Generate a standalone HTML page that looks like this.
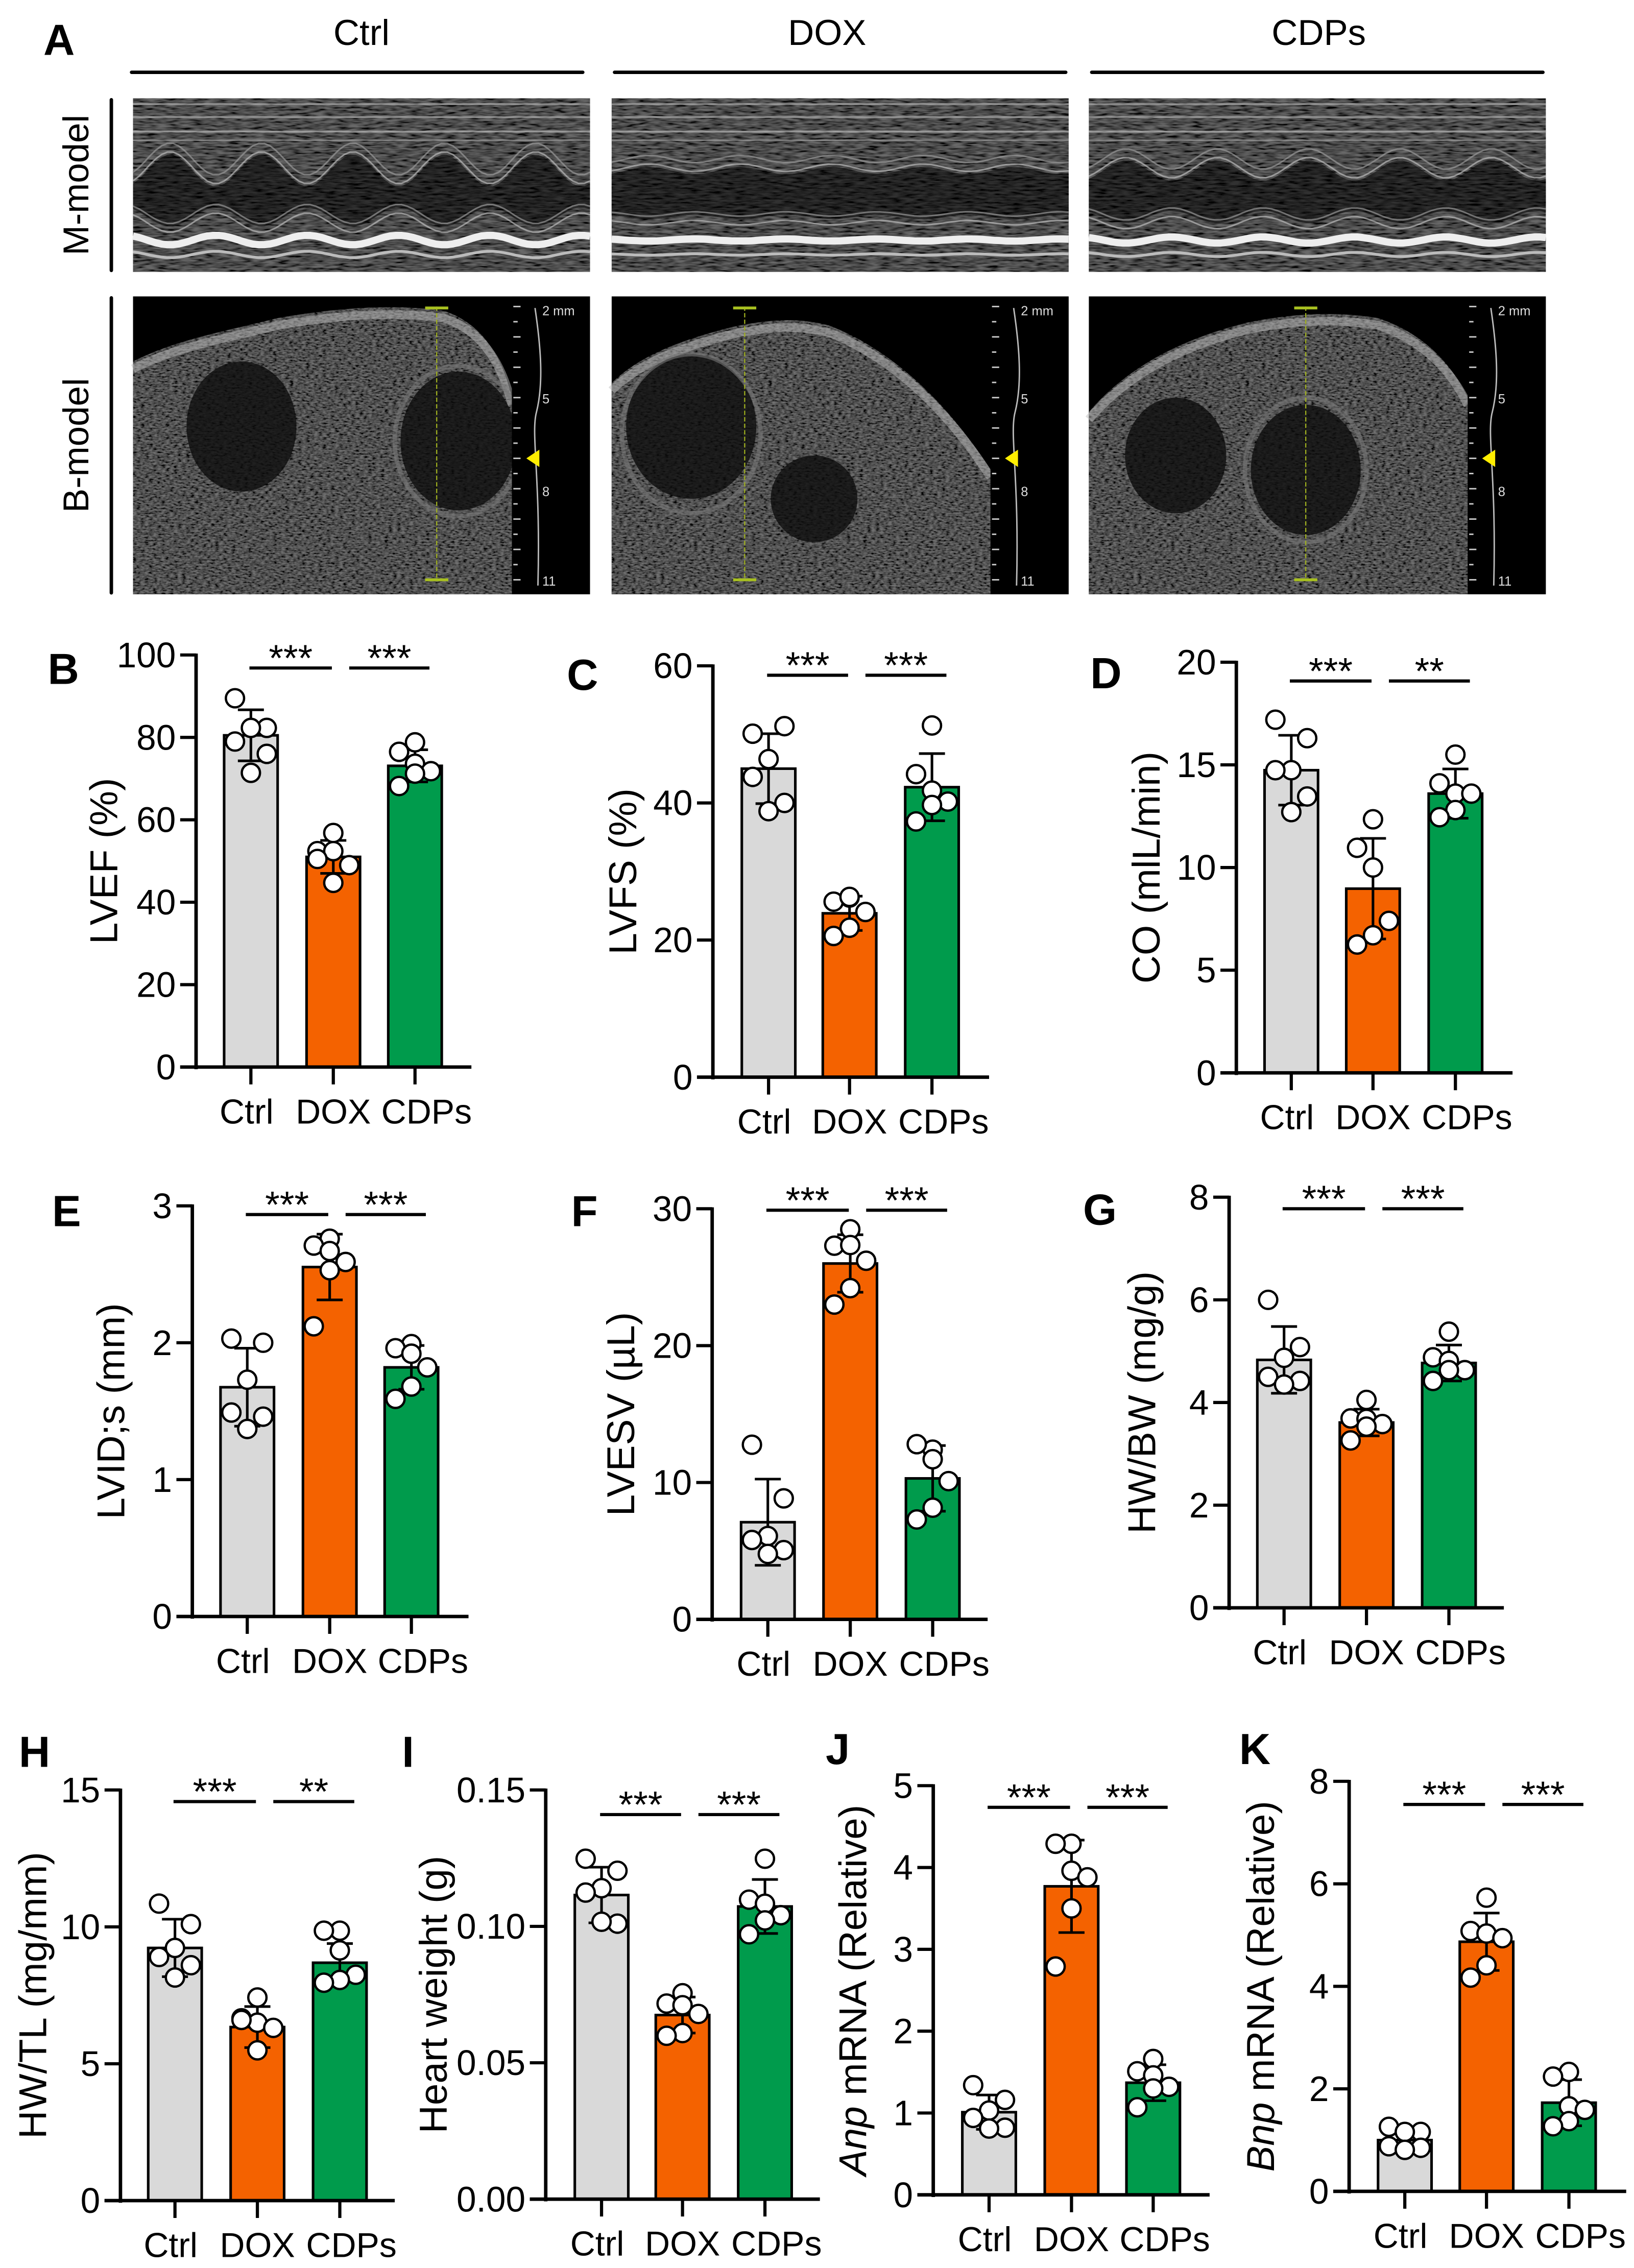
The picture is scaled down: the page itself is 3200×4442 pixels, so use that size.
<!DOCTYPE html>
<html><head><meta charset="utf-8">
<style>
html,body{margin:0;padding:0;background:#fff;}
svg{display:block;}
text{font-family:"Liberation Sans",Arial,sans-serif;fill:#000;}
</style></head>
<body>
<svg id="fig" xmlns="http://www.w3.org/2000/svg" width="3200" height="4442" viewBox="0 0 1130 1568.6" preserveAspectRatio="none">
<defs>
<filter id="speckle" x="0" y="0" width="100%" height="100%">
<feTurbulence type="fractalNoise" baseFrequency="0.35 0.9" numOctaves="2" seed="3" result="n"/>
<feColorMatrix in="n" type="matrix" values="2 0 0 0 -0.5  2 0 0 0 -0.5  2 0 0 0 -0.5  0 0 0 0 1" result="g"/>
<feComposite in="SourceGraphic" in2="g" operator="arithmetic" k1="1.4" k2="0" k3="0" k4="0"/>
</filter>
<filter id="speckleM" x="0" y="0" width="100%" height="100%">
<feTurbulence type="fractalNoise" baseFrequency="0.12 0.7" numOctaves="2" seed="7" result="n"/>
<feColorMatrix in="n" type="matrix" values="2 0 0 0 -0.5  2 0 0 0 -0.5  2 0 0 0 -0.5  0 0 0 0 1" result="g"/>
<feComposite in="SourceGraphic" in2="g" operator="arithmetic" k1="1.4" k2="0" k3="0" k4="0"/>
</filter>
</defs>

<g>
<text x="30" y="38" font-size="30" font-weight="bold">A</text>
<text x="250" y="31" font-size="25" text-anchor="middle">Ctrl</text>
<text x="572" y="31" font-size="25" text-anchor="middle">DOX</text>
<text x="912" y="31" font-size="25" text-anchor="middle">CDPs</text>
<line x1="91" y1="50" x2="403" y2="50" stroke="#000" stroke-width="2.4" stroke-linecap="round"/>
<line x1="425" y1="50" x2="737" y2="50" stroke="#000" stroke-width="2.4" stroke-linecap="round"/>
<line x1="755" y1="50" x2="1067" y2="50" stroke="#000" stroke-width="2.4" stroke-linecap="round"/>
<text transform="translate(52,128) rotate(-90)" font-size="25" text-anchor="middle" dy="9">M-model</text>
<line x1="77" y1="69" x2="77" y2="187" stroke="#000" stroke-width="2.4" stroke-linecap="round"/>
<text transform="translate(52,308) rotate(-90)" font-size="25" text-anchor="middle" dy="9">B-model</text>
<line x1="77" y1="206" x2="77" y2="410" stroke="#000" stroke-width="2.4" stroke-linecap="round"/>
<g id="images"></g>
</g>
<g id="charts"></g>
</svg>

<script>
// ---------- chart data ----------
const categories = ['Ctrl', 'DOX', 'CDPs'];

const lvefMean = [80.5, 51.0, 73.1];
const lvefSD = [6.2, 4.0, 3.9];
const lvefCtrl = [89.5, 82.3, 82.3, 79.0, 76.0, 71.4];
const lvefDox = [56.8, 52.4, 52.4, 49.0, 44.7, 50.5];
const lvefCdps = [78.8, 76.5, 73.6, 71.8, 71.2, 68.2];
const lvefTicks = [0, 20, 40, 60, 80, 100];
const lvefSig = ['***', '***'];

const lvfsMean = [45.0, 23.9, 42.3];
const lvfsSD = [5.1, 2.5, 4.9];
const lvfsCtrl = [50.1, 51.2, 46.4, 43.8, 40.0, 38.8];
const lvfsDox = [26.2, 25.6, 26.3, 24.1, 21.8, 20.6];
const lvfsCdps = [51.3, 44.2, 41.8, 40.2, 39.7, 37.3];
const lvfsTicks = [0, 20, 40, 60];
const lvfsSig = ['***', '***'];

const coMean = [14.74, 8.97, 13.6];
const coSD = [1.7, 2.45, 1.2];
const coCtrl = [17.2, 16.3, 14.74, 14.74, 13.46, 12.7];
const coDox = [12.35, 10.96, 10.0, 7.4, 6.7, 6.25];
const coCdps = [15.5, 14.1, 13.6, 13.6, 12.8, 12.45];
const coTicks = [0, 5, 10, 15, 20];
const coSig = ['***', '**'];

const lvidMean = [1.675, 2.553, 1.82];
const lvidSD = [0.285, 0.24, 0.16];
const lvidCtrl = [2.03, 2.0, 1.73, 1.49, 1.46, 1.37];
const lvidDox = [2.76, 2.71, 2.67, 2.59, 2.53, 2.12];
const lvidCdps = [1.99, 1.96, 1.92, 1.82, 1.68, 1.59];
const lvidTicks = [0, 1, 2, 3];
const lvidSig = ['***', '***'];

const lvesvMean = [7.1, 26.0, 10.3];
const lvesvSD = [3.15, 2.1, 2.4];
const lvesvCtrl = [12.76, 8.84, 6.09, 5.8, 5.06, 4.78];
const lvesvDox = [28.5, 27.3, 27.35, 26.2, 24.2, 23.0];
const lvesvCdps = [12.4, 12.8, 11.7, 10.1, 8.16, 7.3];
const lvesvTicks = [0, 10, 20, 30];
const lvesvSig = ['***', '***'];

const hwbwMean = [4.83, 3.61, 4.77];
const hwbwSD = [0.65, 0.26, 0.35];
const hwbwCtrl = [6.0, 5.08, 4.87, 4.5, 4.42, 4.35];
const hwbwDox = [4.05, 3.69, 3.68, 3.58, 3.53, 3.26];
const hwbwCdps = [5.38, 4.88, 4.81, 4.63, 4.63, 4.42];
const hwbwTicks = [0, 2, 4, 6, 8];
const hwbwSig = ['***', '***'];

const hwtlMean = [9.23, 6.34, 8.69];
const hwtlSD = [1.05, 0.75, 0.7];
const hwtlCtrl = [10.85, 10.1, 9.23, 8.9, 8.6, 8.15];
const hwtlDox = [7.42, 6.66, 6.5, 6.31, 5.49, 6.6];
const hwtlCdps = [9.86, 9.86, 9.14, 8.25, 8.06, 7.96];
const hwtlTicks = [0, 5, 10, 15];
const hwtlSig = ['***', '**'];

const hwMean = [0.1115, 0.0675, 0.1073];
const hwSD = [0.0102, 0.0066, 0.0099];
const hwCtrl = [0.1248, 0.1204, 0.114, 0.1124, 0.101, 0.1017];
const hwDox = [0.0755, 0.0717, 0.0711, 0.0679, 0.0609, 0.0599];
const hwCdps = [0.1248, 0.1098, 0.1083, 0.1041, 0.1022, 0.0971];
const hwTicks = [0, 0.05, 0.10, 0.15];
const hwTickLabels = ['0.00', '0.05', '0.10', '0.15'];
const hwSig = ['***', '***'];

const anpMean = [1.01, 3.77, 1.37];
const anpSD = [0.21, 0.565, 0.22];
const anpCtrl = [1.34, 1.16, 1.03, 0.94, 0.82, 0.81];
const anpDox = [4.29, 4.29, 3.96, 3.88, 3.5, 2.79];
const anpCdps = [1.66, 1.51, 1.46, 1.32, 1.3, 1.07];
const anpTicks = [0, 1, 2, 3, 4, 5];
const anpSig = ['***', '***'];

const bnpMean = [1.0, 4.87, 1.73];
const bnpSD = [0.19, 0.56, 0.45];
const bnpCtrl = [1.26, 1.16, 1.16, 0.88, 0.85, 0.81];
const bnpDox = [5.73, 5.08, 5.03, 4.94, 4.41, 4.17];
const bnpCdps = [2.33, 2.24, 1.66, 1.59, 1.37, 1.27];
const bnpTicks = [0, 2, 4, 6, 8];
const bnpSig = ['***', '***'];

// ---------- layout (not data) ----------
const NS = 'http://www.w3.org/2000/svg';
const barColors = ['#d9d9d9', '#f46200', '#009b4c'];
const jitter = [[-0.55, 0.55, 0, -0.55, 0.55, 0], [0, -0.55, 0, 0.55, 0, -0.55], [0, -0.55, 0, 0.55, 0, -0.55]];
const BW = 37;

function mk(tag, parent) {
  const e = document.createElementNS(NS, tag);
  parent.appendChild(e);
  return e;
}

const panels = [
  {id:'b', letter:'B', lx:33, ly:473, ax:135.6, top:453, bot:738, c:[173.5,230.5,287], end:326, tx:71, title:'LVEF (%)', sigY:462, mean:lvefMean, sd:lvefSD, pts:[lvefCtrl,lvefDox,lvefCdps], ticks:lvefTicks, labels:null, sig:lvefSig},
  {id:'c', letter:'C', lx:392, ly:477, ax:493, top:460.5, bot:745, c:[531.5,587.5,644.5], end:684, tx:430, title:'LVFS (%)', sigY:467, mean:lvfsMean, sd:lvfsSD, pts:[lvfsCtrl,lvfsDox,lvfsCdps], ticks:lvfsTicks, labels:null, sig:lvfsSig},
  {id:'d', letter:'D', lx:754, ly:476, ax:855, top:458, bot:742, c:[893,949.5,1006.5], end:1046, tx:792, title:'CO (mlL/min)', sigY:471, mean:coMean, sd:coSD, pts:[coCtrl,coDox,coCdps], ticks:coTicks, labels:null, sig:coSig},
  {id:'e', letter:'E', lx:36, ly:848, ax:133, top:834, bot:1118, c:[171,228,284.5], end:324, tx:76, title:'LVID;s (mm)', sigY:840, mean:lvidMean, sd:lvidSD, pts:[lvidCtrl,lvidDox,lvidCdps], ticks:lvidTicks, labels:null, sig:lvidSig},
  {id:'f', letter:'F', lx:395, ly:848, ax:492.5, top:836, bot:1120, c:[531,588,645], end:683, tx:428.5, title:'LVESV (\u00b5L)', sigY:837, mean:lvesvMean, sd:lvesvSD, pts:[lvesvCtrl,lvesvDox,lvesvCdps], ticks:lvesvTicks, labels:null, sig:lvesvSig},
  {id:'g', letter:'G', lx:749, ly:847, ax:850, top:828, bot:1112, c:[888,945,1002], end:1040, tx:789, title:'HW/BW (mg/g)', sigY:836, mean:hwbwMean, sd:hwbwSD, pts:[hwbwCtrl,hwbwDox,hwbwCdps], ticks:hwbwTicks, labels:null, sig:hwbwSig},
  {id:'h', letter:'H', lx:13, ly:1222, ax:83.3, top:1238, bot:1522, c:[121,178,235], end:273, tx:22, title:'HW/TL (mg/mm)', sigY:1246, mean:hwtlMean, sd:hwtlSD, pts:[hwtlCtrl,hwtlDox,hwtlCdps], ticks:hwtlTicks, labels:null, sig:hwtlSig},
  {id:'i', letter:'I', lx:278, ly:1222, ax:377.4, top:1238, bot:1521, c:[416,472,529], end:567, tx:299, title:'Heart weight (g)', sigY:1255, mean:hwMean, sd:hwSD, pts:[hwCtrl,hwDox,hwCdps], ticks:hwTicks, labels:hwTickLabels, sig:hwSig},
  {id:'j', letter:'J', lx:571, ly:1220, ax:645.4, top:1235, bot:1518, c:[684,741,797.5], end:836.5, tx:589, title:['Anp',' mRNA (Relative)'], sigY:1250, mean:anpMean, sd:anpSD, pts:[anpCtrl,anpDox,anpCdps], ticks:anpTicks, labels:null, sig:anpSig},
  {id:'k', letter:'K', lx:857, ly:1220, ax:933, top:1232, bot:1515.6, c:[971.5,1028,1085], end:1124.6, tx:871, title:['Bnp',' mRNA (Relative)'], sigY:1248, mean:bnpMean, sd:bnpSD, pts:[bnpCtrl,bnpDox,bnpCdps], ticks:bnpTicks, labels:null, sig:bnpSig}
];

const chartsRoot = document.getElementById('charts');

panels.forEach(p => {
  const g = mk('g', chartsRoot);
  
  
  const ymax = p.ticks[p.ticks.length - 1];
  const y = v => p.bot - v / ymax * (p.bot - p.top);

  const L = mk('text', g);
  
  
  L.setAttribute('x', p.lx); L.setAttribute('y', p.ly);
  L.setAttribute('font-size', '30'); L.setAttribute('font-weight', 'bold');
  L.textContent = p.letter;

  p.mean.forEach((m, i) => {
    const r = mk('rect', g);
    
    
    r.setAttribute('x', p.c[i] - BW / 2); r.setAttribute('y', y(m));
    r.setAttribute('width', BW); r.setAttribute('height', p.bot - y(m));
    r.setAttribute('fill', barColors[i]); r.setAttribute('stroke', '#000'); r.setAttribute('stroke-width', '1.8');
  });
  p.mean.forEach((m, i) => {
    const path = mk('path', g);
    
    
    const hi = y(m + p.sd[i]), lo = y(m - p.sd[i]), cx = p.c[i];
    path.setAttribute('d', `M${cx},${hi}V${lo}M${cx-9},${hi}H${cx+9}M${cx-9},${lo}H${cx+9}`);
    path.setAttribute('stroke', '#000'); path.setAttribute('stroke-width', '1.8'); path.setAttribute('fill', 'none');
  });
  p.pts.forEach((arr, i) => {
    arr.forEach((v, k) => {
      const c = mk('circle', g);
      
      
      c.setAttribute('cx', p.c[i] + jitter[i][k] * 20); c.setAttribute('cy', y(v));
      c.setAttribute('r', '6.3'); c.setAttribute('fill', '#fff'); c.setAttribute('stroke', '#000'); c.setAttribute('stroke-width', '1.6');
    });
  });
  const ya = mk('line', g);
  
  
  ya.setAttribute('x1', p.ax); ya.setAttribute('x2', p.ax); ya.setAttribute('y1', p.top - 1); ya.setAttribute('y2', p.bot + 1.5);
  ya.setAttribute('stroke', '#000'); ya.setAttribute('stroke-width', '2.4');
  const xa = mk('line', g);
  
  
  xa.setAttribute('x1', p.ax - 11); xa.setAttribute('x2', p.end); xa.setAttribute('y1', p.bot); xa.setAttribute('y2', p.bot);
  xa.setAttribute('stroke', '#000'); xa.setAttribute('stroke-width', '2.4');
  p.ticks.forEach((t, k) => {
    const tl = mk('line', g);
    
    
    tl.setAttribute('x1', p.ax - 11); tl.setAttribute('x2', p.ax); tl.setAttribute('y1', y(t)); tl.setAttribute('y2', y(t));
    tl.setAttribute('stroke', '#000'); tl.setAttribute('stroke-width', '2.2');
    const tt = mk('text', g);
    
    
    tt.setAttribute('x', p.ax - 14); tt.setAttribute('y', y(t) + 8.5);
    tt.setAttribute('font-size', '24.5'); tt.setAttribute('text-anchor', 'end');
    tt.textContent = p.labels ? p.labels[k] : String(t);
  });
  categories.forEach((cat, i) => {
    const tk = mk('line', g);
    
    
    tk.setAttribute('x1', p.c[i]); tk.setAttribute('x2', p.c[i]); tk.setAttribute('y1', p.bot); tk.setAttribute('y2', p.bot + 12);
    tk.setAttribute('stroke', '#000'); tk.setAttribute('stroke-width', '2.2');
    const ct = mk('text', g);
    
    
    ct.setAttribute('x', p.c[i] + (i === 0 ? -3 : i === 2 ? 8 : 0)); ct.setAttribute('y', p.bot + 39);
    ct.setAttribute('font-size', '24'); ct.setAttribute('text-anchor', 'middle');
    ct.textContent = cat;
  });
  const tt = mk('text', g);
  
  
  tt.setAttribute('transform', `translate(${p.tx},${(p.top + p.bot) / 2}) rotate(-90)`);
  tt.setAttribute('font-size', '27'); tt.setAttribute('text-anchor', 'middle'); tt.setAttribute('dy', '10');
  if (Array.isArray(p.title)) {
    const s1 = mk('tspan', tt); s1.setAttribute('font-style', 'italic'); s1.textContent = p.title[0];
    const s2 = mk('tspan', tt); s2.textContent = p.title[1];
  } else { tt.textContent = p.title; }
  const segs = [[p.c[0] - 1, p.c[1] - 1], [p.c[1] + 11, p.c[2] + 10]];
  segs.forEach((s, k) => {
    const sl = mk('line', g);
    
    
    sl.setAttribute('x1', s[0]); sl.setAttribute('x2', s[1]); sl.setAttribute('y1', p.sigY); sl.setAttribute('y2', p.sigY);
    sl.setAttribute('stroke', '#000'); sl.setAttribute('stroke-width', '2.2');
    const st = mk('text', g);
    
    
    st.setAttribute('x', (s[0] + s[1]) / 2); st.setAttribute('y', p.sigY + 2);
    st.setAttribute('font-size', '26'); st.setAttribute('text-anchor', 'middle');
    st.textContent = p.sig[k];
  });
});

// ---------- ultrasound images (decorative approximations) ----------
const imgRoot = document.getElementById('images');
const imgs = [
  {n:'ctrl', x:92, amp:11, per:5, bl:{arch:'M0,45 C30,30 60,25 100,15 C140,8 180,5 215,10 C240,18 255,40 262,70 L262,206 L0,206 Z', cav:[[75,90,38,45],[225,100,40,48]], ring:[225,100,44,52], tri:225, vl:210}},
  {n:'dox', x:423, amp:2.5, per:5, bl:{arch:'M0,60 C20,40 50,30 80,22 C110,15 130,15 150,20 C190,35 230,70 262,120 L262,206 L0,206 Z', cav:[[55,90,45,50],[140,140,30,30]], ring:[55,95,48,55], tri:225, vl:92}},
  {n:'cdps', x:753, amp:7, per:5, bl:{arch:'M0,80 C30,45 70,28 110,18 C140,12 170,10 200,15 C230,25 250,45 262,70 L262,206 L0,206 Z', cav:[[60,110,35,40],[150,120,38,45]], ring:[150,120,42,50], tri:225, vl:150}}
];
imgs.forEach(im => {
  const g = mk('g', imgRoot);
  
  
  const W = 316, X = im.x;
  const bg = mk('rect', g);
  bg.setAttribute('x', X); bg.setAttribute('y', 68); bg.setAttribute('width', W); bg.setAttribute('height', 120);
  bg.setAttribute('fill', '#5a5a5a'); bg.setAttribute('filter', 'url(#speckleM)');
  const wave = (base, a, ph) => { let d = ''; for (let i = 0; i <= 80; i++) { const xx = X + i * W / 80; const yy = base + a * Math.cos((i / 80) * im.per * 2 * Math.PI + ph); d += (i ? 'L' : 'M') + xx.toFixed(1) + ',' + yy.toFixed(1); } return d; };
  const cav = mk('path', g);
  cav.setAttribute('d', wave(118, im.amp, 0.6) + wave(150, -im.amp * 0.6, 0.6).replace('M', 'L').split('L').reverse().filter(s=>s).map(s=>'L'+s).join('') + 'Z');
  cav.setAttribute('fill', '#2a2a2a'); cav.setAttribute('filter', 'url(#speckleM)');
  [[72,'#c0c0c0',1.2],[81,'#b8b8b8',1.4],[91,'#c8c8c8',1.4],[97,'#aaa',1]].forEach(b => {
    const l = mk('line', g); l.setAttribute('x1', X); l.setAttribute('x2', X + W); l.setAttribute('y1', b[0]); l.setAttribute('y2', b[0]);
    l.setAttribute('stroke', b[1]); l.setAttribute('stroke-width', b[2]); l.setAttribute('opacity', '0.6');
  });
  [[-6,'#999'],[0,'#bbb']].forEach(o => {
    const w1 = mk('path', g); w1.setAttribute('d', wave(116 + o[0], im.amp, 0.6)); w1.setAttribute('stroke', o[1]); w1.setAttribute('fill', 'none'); w1.setAttribute('stroke-width', '1.1'); w1.setAttribute('opacity', '0.7');
    const w2 = mk('path', g); w2.setAttribute('d', wave(154 + o[0], -im.amp * 0.6, 0.6)); w2.setAttribute('stroke', o[1]); w2.setAttribute('fill', 'none'); w2.setAttribute('stroke-width', '1.1'); w2.setAttribute('opacity', '0.7');
  });
  const bright = mk('path', g); bright.setAttribute('d', wave(166, -im.amp * 0.3, 0.6)); bright.setAttribute('stroke', '#eeeeee'); bright.setAttribute('stroke-width', '5'); bright.setAttribute('fill', 'none');
  const b2 = mk('path', g); b2.setAttribute('d', wave(176, -im.amp * 0.2, 0.6)); b2.setAttribute('stroke', '#bbb'); b2.setAttribute('stroke-width', '2'); b2.setAttribute('fill', 'none');

  const gb = mk('g', imgRoot);
  
  
  const blk = mk('rect', gb);
  blk.setAttribute('x', X); blk.setAttribute('y', 205); blk.setAttribute('width', W); blk.setAttribute('height', 206); blk.setAttribute('fill', '#000');
  const tis = mk('path', gb);
  tis.setAttribute('d', im.bl.arch); tis.setAttribute('transform', `translate(${X},205)`);
  tis.setAttribute('fill', '#606060'); tis.setAttribute('filter', 'url(#speckle)');
  const band = mk('path', gb);
  band.setAttribute('d', im.bl.arch.split(' L262,206')[0]); band.setAttribute('transform', `translate(${X},210)`);
  band.setAttribute('fill', 'none'); band.setAttribute('stroke', '#bbb'); band.setAttribute('stroke-width', '6'); band.setAttribute('opacity', '0.5');
  im.bl.cav.forEach(cv => {
    const e = mk('ellipse', gb); e.setAttribute('cx', X + cv[0]); e.setAttribute('cy', 205 + cv[1]); e.setAttribute('rx', cv[2]); e.setAttribute('ry', cv[3]);
    e.setAttribute('fill', '#0c0c0c'); e.setAttribute('opacity', '0.8');
  });
  const ring = mk('ellipse', gb); ring.setAttribute('cx', X + im.bl.ring[0]); ring.setAttribute('cy', 205 + im.bl.ring[1]); ring.setAttribute('rx', im.bl.ring[2]); ring.setAttribute('ry', im.bl.ring[3]);
  ring.setAttribute('fill', 'none'); ring.setAttribute('stroke', '#777'); ring.setAttribute('stroke-width', '3'); ring.setAttribute('opacity', '0.6');
  const cover = mk('rect', gb); cover.setAttribute('x', X + 262); cover.setAttribute('y', 205); cover.setAttribute('width', W - 262); cover.setAttribute('height', 206); cover.setAttribute('fill', '#000');
  const vl = mk('line', gb); vl.setAttribute('x1', X + im.bl.vl); vl.setAttribute('x2', X + im.bl.vl); vl.setAttribute('y1', 212); vl.setAttribute('y2', 402);
  vl.setAttribute('stroke', '#9fb020'); vl.setAttribute('stroke-width', '0.8'); vl.setAttribute('stroke-dasharray', '3,1.5');
  [213, 401].forEach(yy => { const m = mk('line', gb); m.setAttribute('x1', X + im.bl.vl - 8); m.setAttribute('x2', X + im.bl.vl + 8); m.setAttribute('y1', yy); m.setAttribute('y2', yy); m.setAttribute('stroke', '#a8c020'); m.setAttribute('stroke-width', '2'); });
  for (let k = 0; k < 19; k++) { const t = mk('line', gb); const yy = 212 + k * 10.5; t.setAttribute('x1', X + 263); t.setAttribute('x2', X + (k % 2 ? 266 : 268)); t.setAttribute('y1', yy); t.setAttribute('y2', yy); t.setAttribute('stroke', '#ccc'); t.setAttribute('stroke-width', '1'); }
  const sc = mk('path', gb); sc.setAttribute('d', `M${X+278},213 C${X+282},240 ${X+284},265 ${X+279},285 C${X+275},300 ${X+282},330 ${X+280},405`); sc.setAttribute('stroke', '#bbb'); sc.setAttribute('fill', 'none'); sc.setAttribute('stroke-width', '1');
  [['2 mm',218],['5',279],['8',343],['11',405]].forEach(s => { const t = mk('text', gb); t.setAttribute('x', X + 283); t.setAttribute('y', s[1]); t.setAttribute('font-size', '9'); t.setAttribute('style', 'fill:#ddd'); t.textContent = s[0]; });
  const tri = mk('path', gb); tri.setAttribute('d', `M${X+272},317 L${X+281},311 L${X+281},323 Z`); tri.setAttribute('fill', '#ffee00');
});
</script>
</body></html>
